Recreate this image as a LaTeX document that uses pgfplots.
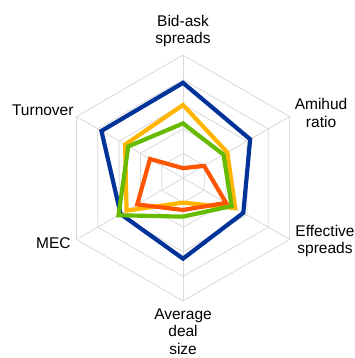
\documentclass[border=0pt]{standalone}
\usepackage{pgfplots}
\pgfplotsset{compat=1.18}
\usepackage{fontspec}
\setmainfont{Liberation Sans}

\definecolor{sBlue}{RGB}{0,51,153}
\definecolor{sYellow}{RGB}{255,180,0}
\definecolor{sGreen}{RGB}{102,187,0}
\definecolor{sRed}{RGB}{255,85,0}
\definecolor{gridgray}{RGB}{217,217,217}

\begin{document}
\begin{tikzpicture}[
    lbl/.style={align=center, text=black,
        font=\fontsize{15.5bp}{17.6bp}\selectfont},
]
\begin{axis}[
    name=ax,
    scale only axis,
    width=354bp, height=358bp,
    xmin=-7.44, xmax=6.95,
    ymin=-7.32, ymax=7.24,
    hide axis,
    clip=false,
    data cs=polar,
    every axis plot/.append style={no marks, line join=miter},
]
% hexagonal grid
\pgfplotsinvokeforeach{1,2,3,4,5}{
  \addplot[gridgray, line width=0.8pt] coordinates {
    (90,#1) (30,#1) (-30,#1) (-90,#1) (-150,#1) (150,#1)} -- cycle;
}
\pgfplotsinvokeforeach{90,30,-30,-90,-150,150}{
  \addplot[gridgray, line width=0.8pt] coordinates {(#1,0) (#1,5)};
}

% series: Bid-ask, Amihud, Effective, Avg deal size, MEC, Turnover
\addplot[sBlue, line width=4.2pt] coordinates {
  (90,3.87) (30,3.15) (-30,2.83) (-90,3.28) (-150,2.93) (150,3.83)} -- cycle;
\addplot[sYellow, line width=4.2pt] coordinates {
  (90,2.97) (30,2.08) (-30,2.45) (-90,1.0) (-150,2.65) (150,2.72)} -- cycle;
\addplot[sGreen, line width=4.2pt] coordinates {
  (90,2.22) (30,1.9) (-30,2.28) (-90,1.57) (-150,3.03) (150,2.57)} -- cycle;
\addplot[sRed, line width=4.2pt] coordinates {
  (90,0.4) (30,0.99) (-30,2.02) (-90,1.3) (-150,2.15) (150,1.55)} -- cycle;

% category labels
\node[lbl] at (axis cs:0,5.98) {Bid-ask\\spreads};
\node[lbl] at (axis cs:5.61,2.64) {Amihud\\ratio};
\node[lbl] at (axis cs:5.77,-2.56) {Effective\\spreads};
\node[lbl] at (axis cs:0,-6.24) {Average\\deal\\size};
\node[lbl] at (axis cs:-5.27,-2.63) {MEC};
\node[lbl] at (axis cs:-5.70,2.76) {Turnover};
\end{axis}
\pgfresetboundingbox
\path[use as bounding box] (ax.south west) rectangle (ax.north east);
\end{tikzpicture}
\end{document}
